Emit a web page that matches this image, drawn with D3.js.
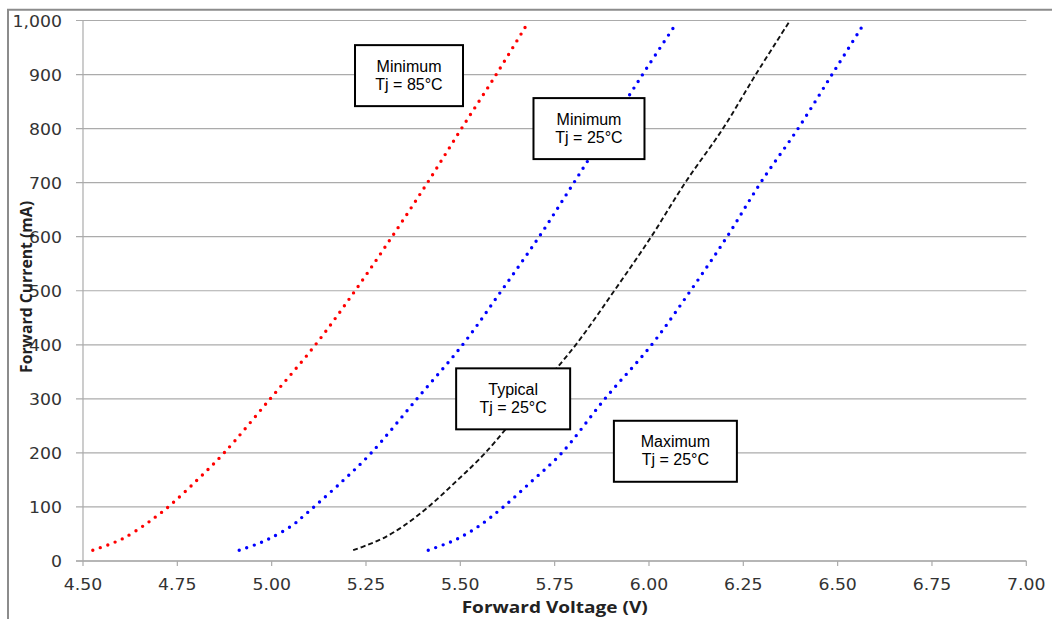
<!DOCTYPE html>
<html>
<head>
<meta charset="utf-8">
<script src="https://cdn.jsdelivr.net/npm/d3@7"></script>
<style>
  html, body { margin: 0; padding: 0; background: #fff; }
  svg { display: block; }
</style>
</head>
<body>
<svg id="chart" width="1052" height="619"></svg>
<script>
// ---- data ----
const xTicks = [4.50, 4.75, 5.00, 5.25, 5.50, 5.75, 6.00, 6.25, 6.50, 6.75, 7.00];
const yTicks = [0, 100, 200, 300, 400, 500, 600, 700, 800, 900, 1000];

const minHotV = [4.526, 4.567, 4.607, 4.662, 4.695, 4.726, 4.80, 4.874, 4.996, 5.116, 5.221, 5.319, 5.413, 5.503, 5.595, 5.674];
const minHotI = [20, 30, 42, 66, 83, 100, 148, 200, 300, 400, 500, 600, 700, 800, 900, 990];

const minV = [4.914, 4.956, 4.996, 5.055, 5.084, 5.112, 5.188, 5.264, 5.385, 5.506, 5.609, 5.709, 5.801, 5.892, 5.983, 6.067];
const minI = [20, 30, 42, 66, 83, 100, 148, 200, 300, 400, 500, 600, 700, 800, 900, 989];

const typV = [5.216, 5.255, 5.295, 5.35, 5.415, 5.49, 5.566, 5.686, 5.806, 5.908, 6.006, 6.096, 6.196, 6.283, 6.372];
const typI = [20, 30, 42, 65, 100, 148, 200, 300, 400, 500, 600, 700, 800, 900, 998];

const maxV = [5.415, 5.455, 5.495, 5.55, 5.614, 5.69, 5.769, 5.883, 6.007, 6.11, 6.207, 6.296, 6.395, 6.485, 6.565];
const maxI = [20, 30, 42, 65, 100, 148, 200, 300, 400, 500, 600, 700, 800, 900, 989];

const annoLine1 = ["Minimum", "Minimum", "Typical", "Maximum"];
const annoLine2 = ["Tj = 85°C", "Tj = 25°C", "Tj = 25°C", "Tj = 25°C"];
const annoV = [5.364, 5.841, 5.640, 6.070];
const annoI = [898, 800, 300, 203];

// ---- layout / style ----
const boxW = [108, 111, 114, 123];
const boxH = 61;
const svg = d3.select("#chart");
const x = d3.scaleLinear().domain([4.5, 7.0]).range([83, 1026.3]);
const y = d3.scaleLinear().domain([0, 1000]).range([561, 20.5]);
const gridColor = "#ababab";
const tickFont = "'DejaVu Sans', Verdana, sans-serif";

// outer chart border
svg.append("path")
  .attr("d", "M8,619 L8,9.7 L1052,9.7")
  .attr("fill", "none").attr("stroke", "#8c8c8c").attr("stroke-width", 2);

// horizontal gridlines (extend left as tick marks)
svg.append("g").selectAll("line").data(yTicks).join("line")
  .attr("x1", x(4.5) - 7).attr("x2", x(7.0))
  .attr("y1", d => y(d)).attr("y2", d => y(d))
  .attr("stroke", gridColor).attr("stroke-width", 1.2);

// y axis line
svg.append("line")
  .attr("x1", x(4.5)).attr("x2", x(4.5))
  .attr("y1", y(1000)).attr("y2", y(0))
  .attr("stroke", gridColor).attr("stroke-width", 1.2);

// x axis line + ticks
svg.append("line")
  .attr("x1", x(4.5) - 7).attr("x2", x(7.0))
  .attr("y1", y(0)).attr("y2", y(0))
  .attr("stroke", gridColor).attr("stroke-width", 1.4);
svg.append("g").selectAll("line").data(xTicks).join("line")
  .attr("x1", d => x(d)).attr("x2", d => x(d))
  .attr("y1", y(0)).attr("y2", y(0) + 5)
  .attr("stroke", gridColor).attr("stroke-width", 1.2);

// tick labels
const yFmt = d3.format(",");
svg.append("g").selectAll("text").data(yTicks).join("text")
  .attr("transform", d => `translate(62,${y(d) + 6}) scale(1.08,1)`)
  .attr("text-anchor", "end")
  .attr("font-family", tickFont).attr("font-size", 16).attr("fill", "#333")
  .text(d => yFmt(d));

svg.append("g").selectAll("text").data(xTicks).join("text")
  .attr("transform", d => `translate(${x(d)},590) scale(1.08,1)`)
  .attr("text-anchor", "middle")
  .attr("font-family", tickFont).attr("font-size", 16).attr("fill", "#333")
  .text(d => d.toFixed(2));

// axis titles
svg.append("text")
  .attr("x", 554.7 - 93).attr("y", 613)
  .attr("textLength", 186).attr("lengthAdjust", "spacingAndGlyphs")
  .attr("font-family", "'Open Sans', 'Liberation Sans', sans-serif")
  .attr("font-weight", "bold").attr("font-size", 16).attr("fill", "#222")
  .text("Forward Voltage (V)");

svg.append("text")
  .attr("transform", "translate(32,373) rotate(-90)")
  .attr("textLength", 172).attr("lengthAdjust", "spacingAndGlyphs")
  .attr("font-family", "'Open Sans', 'Liberation Sans', sans-serif")
  .attr("font-weight", "bold").attr("font-size", 16).attr("fill", "#222")
  .text("Forward Current (mA)");

// curves
const line = d3.line()
  .x(d => x(d[0])).y(d => y(d[1]))
  .curve(d3.curveCatmullRom.alpha(0.5));

const series = [
  { v: minHotV, i: minHotI, color: "#ff0000", dotted: true },
  { v: minV, i: minI, color: "#0000ff", dotted: true },
  { v: typV, i: typI, color: "#111", dotted: false },
  { v: maxV, i: maxI, color: "#0000ff", dotted: true }
];

svg.append("g").selectAll("path").data(series).join("path")
  .attr("d", s => line(d3.zip(s.v, s.i)))
  .attr("fill", "none")
  .attr("stroke", s => s.color)
  .attr("stroke-width", s => s.dotted ? 3.4 : 1.9)
  .attr("stroke-linecap", s => s.dotted ? "round" : "butt")
  .attr("stroke-dasharray", s => s.dotted ? "0 7.9" : "5 3");

// annotation boxes
const anno = svg.append("g").selectAll("g").data(annoV.map((v, k) => k)).join("g")
  .attr("transform", k => `translate(${x(annoV[k])},${y(annoI[k])})`);
anno.append("rect")
  .attr("x", k => -boxW[k] / 2).attr("y", -boxH / 2)
  .attr("width", k => boxW[k]).attr("height", boxH)
  .attr("fill", "#fff").attr("stroke", "#000").attr("stroke-width", 2);
anno.append("text")
  .attr("text-anchor", "middle").attr("y", -4)
  .attr("font-family", "'Liberation Sans', Arial, sans-serif").attr("font-size", 16)
  .attr("fill", "#000")
  .text(k => annoLine1[k]);
anno.append("text")
  .attr("text-anchor", "middle").attr("y", 14)
  .attr("font-family", "'Liberation Sans', Arial, sans-serif").attr("font-size", 16)
  .attr("fill", "#000")
  .text(k => annoLine2[k]);
</script>
</body>
</html>
